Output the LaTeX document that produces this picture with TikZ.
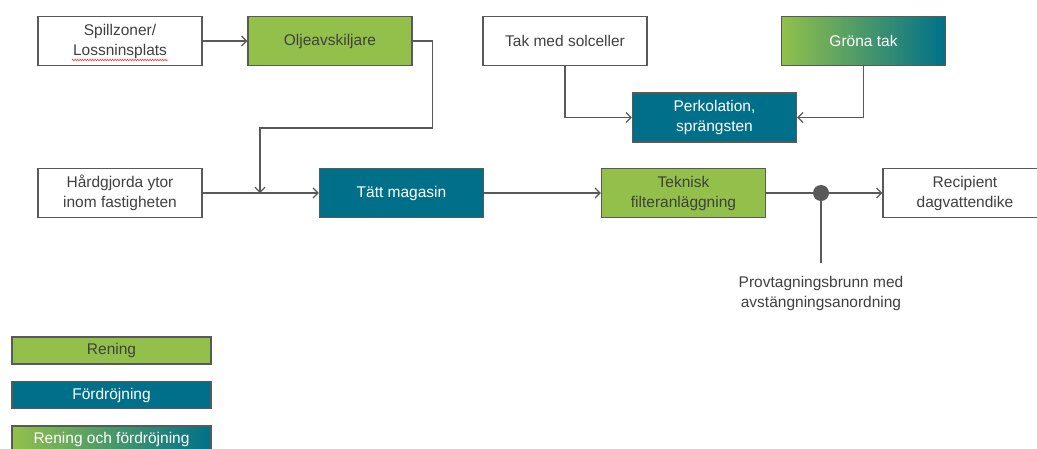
\documentclass[tikz,border=0pt]{standalone}
\usepackage{fontspec}
\setmainfont{Liberation Sans}
\usetikzlibrary{arrows.meta,decorations.pathmorphing}
\definecolor{grn}{HTML}{92C04A}
\definecolor{tealc}{HTML}{00708A}
\definecolor{edgec}{HTML}{595959}
\definecolor{txtc}{HTML}{404040}
\begin{document}
\begin{tikzpicture}[x=1pt,y=-1pt,
  box/.style={draw=edgec,line width=1.3pt,minimum width=164pt,minimum height=49pt,
    align=center,font=\fontsize{15.5}{20}\selectfont,text=txtc,inner sep=0pt},
  white box/.style={box,fill=white},
  green box/.style={box,fill=grn},
  teal box/.style={box,fill=tealc,text=white},
  grad box/.style={box,left color=grn,right color=tealc,text=white},
  legend/.style={draw=edgec,line width=1.3pt,minimum width=199pt,minimum height=27pt,
    font=\fontsize{15.5}{20}\selectfont,inner sep=0pt},
  conn/.style={draw=edgec,line width=1.3pt},
  arr/.style={conn,-{Straight Barb[length=5pt,width=10pt,line width=1.2pt]}}
]
\useasboundingbox (0,0) rectangle (1037,448);

\node[white box] (spill) at (120,41) {Spillzoner/\\Lossninsplats};
\node[green box] (olje) at (330,41) {Oljeavskiljare};
\node[white box] (hard) at (120,193) {Hårdgjorda ytor\\inom fastigheten};
\node[teal box] (tatt) at (401.5,193) {Tätt magasin};
\node[white box] (tak) at (565,41) {Tak med solceller};
\node[grad box] (grona) at (863.5,41) {Gröna tak};
\node[teal box] (perk) at (714.5,117.5) {Perkolation,\\sprängsten};
\node[green box] (tekn) at (683.5,193) {Teknisk\\filteranläggning};
\node[white box] (recip) at (965,193) {Recipient\\dagvattendike};

% spell-check squiggle under Lossninsplats
\coordinate (sqA) at (72,60);
\coordinate (sqB) at (168,60);
\draw[red!80!white,line width=0.6pt,decorate,decoration={zigzag,amplitude=0.8pt,segment length=2.5pt}] (sqA) -- (sqB);

\draw[arr] (spill) -- (olje);
\coordinate (j1) at (260,193);
\draw[arr] (olje.east) -- ++(20,0) |- (260,128) -- (j1);
\draw[arr] (hard) -- (tatt);
\draw[arr] (tatt) -- (tekn);
\draw[arr] (tak.south) |- (perk.west);
\draw[arr] (grona.south) |- (perk.east);

\node[circle,fill=edgec,inner sep=0pt,minimum size=16pt] (dot) at (821,193) {};
\draw[conn] (tekn) -- (dot);
\draw[arr] (dot) -- (recip);
\coordinate (dotend) at (821,263);
\draw[conn] (dot) -- (dotend);
\node[font=\fontsize{15.5}{20}\selectfont,text=txtc,align=center] (prov) at (821,293) {Provtagningsbrunn med\\avstängningsanordning};

\node[legend,fill=grn,text=txtc] (lg1) at (111.5,350.5) {Rening};
\node[legend,fill=tealc,text=white] (lg2) at (111.5,395) {Fördröjning};
\node[legend,left color=grn,right color=tealc,text=white] (lg3) at (111.5,439.5) {Rening och fördröjning};
\end{tikzpicture}
\end{document}
